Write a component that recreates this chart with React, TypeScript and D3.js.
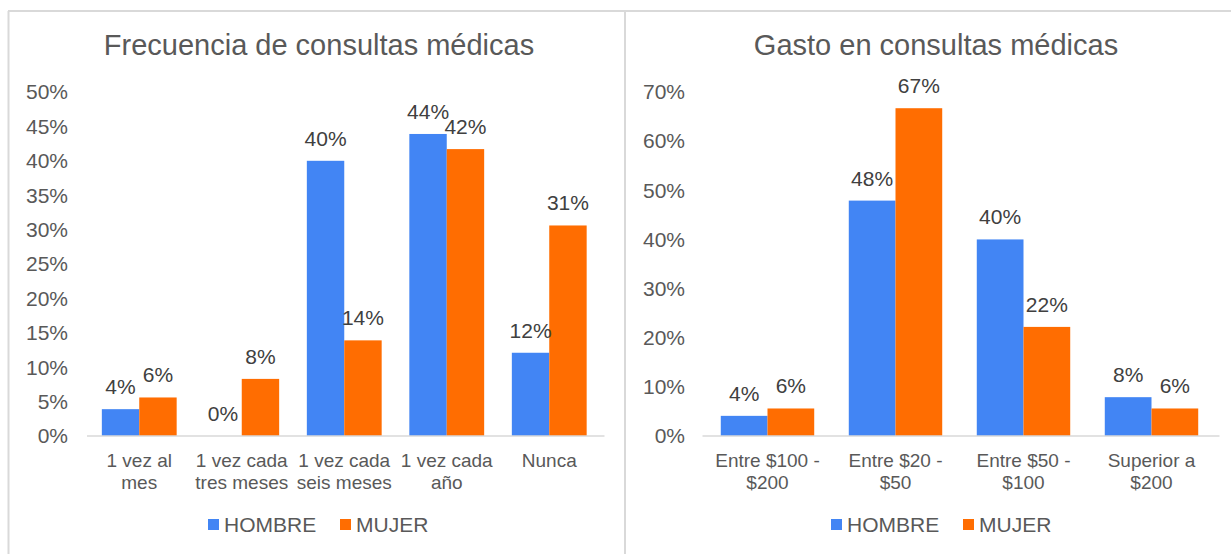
import React from "react";
import * as d3 from "d3";

const freqCategories: string[][] = [
  ["1 vez al", "mes"],
  ["1 vez cada", "tres meses"],
  ["1 vez cada", "seis meses"],
  ["1 vez cada", "año"],
  ["Nunca"],
];
const freqHombre = [3.9, 0, 40, 43.9, 12.1];
const freqMujer = [5.6, 8.3, 13.9, 41.7, 30.6];
const freqTicks = [0, 5, 10, 15, 20, 25, 30, 35, 40, 45, 50];

const gastoCategories: string[][] = [
  ["Entre $100 -", "$200"],
  ["Entre $20 -", "$50"],
  ["Entre $50 -", "$100"],
  ["Superior a", "$200"],
];
const gastoHombre = [4.1, 47.9, 40, 7.9];
const gastoMujer = [5.6, 66.7, 22.2, 5.6];
const gastoTicks = [0, 10, 20, 30, 40, 50, 60, 70];

const seriesNames = ["HOMBRE", "MUJER"];
const colors = ["#4285F4", "#FF6D01"];

const FONT = "'Liberation Sans', Arial, sans-serif";

type PanelProps = {
  title: string;
  cats: string[][];
  h: number[];
  m: number[];
  ticks: number[];
  x0: number;
  x1: number;
  tickX: number;
  titleX: number;
  legendX: number;
};

function Panel({ title, cats, h, m, ticks, x0, x1, tickX, titleX, legendX }: PanelProps) {
  const yMax = ticks[ticks.length - 1];
  const y = d3.scaleLinear().domain([0, yMax]).range([436, 92]);
  const padIn = 0.27;
  const x = d3
    .scaleBand<number>()
    .domain(d3.range(cats.length))
    .range([x0, x1])
    .paddingInner(padIn)
    .paddingOuter(padIn / 2);
  const xs = d3.scaleBand<number>().domain([0, 1]).range([0, x.bandwidth()]);
  const series = [h, m];
  return (
    <g>
      <text x={titleX} y={45} dy="0.35em" textAnchor="middle" fontSize={29} fill="#595959">
        {title}
      </text>
      {ticks.map((t) => (
        <text key={t} x={tickX} y={y(t)} dy="0.35em" textAnchor="end" fontSize={21} fill="#595959">
          {d3.format(".0f")(t)}%
        </text>
      ))}
      {series.map((vals, si) =>
        vals.map((v, i) => (
          <rect
            key={`${si}-${i}`}
            x={(x(i) as number) + (xs(si) as number)}
            y={y(v)}
            width={xs.bandwidth()}
            height={y(0) - y(v)}
            fill={colors[si]}
          />
        ))
      )}
      <line x1={x0 - 1} x2={x1 + 4} y1={436} y2={436} stroke="#d9d9d9" strokeWidth={1.5} />
      {series.map((vals, si) =>
        vals.map((v, i) => (
          <text
            key={`l${si}-${i}`}
            x={(x(i) as number) + (xs(si) as number) + xs.bandwidth() / 2}
            y={y(v) - 15}
            textAnchor="middle"
            fontSize={21}
            fill="#404040"
          >
            {Math.round(v)}%
          </text>
        ))
      )}
      {cats.map((lines, i) =>
        lines.map((ln, li) => (
          <text
            key={`c${i}-${li}`}
            x={(x(i) as number) + x.bandwidth() / 2}
            y={460 + li * 22}
            dy="0.35em"
            textAnchor="middle"
            fontSize={19}
            fill="#595959"
          >
            {ln}
          </text>
        ))
      )}
      <g>
        <rect x={legendX} y={519} width={11} height={11} fill={colors[0]} />
        <text x={legendX + 16} y={525} dy="0.35em" fontSize={21} fill="#595959">
          {seriesNames[0]}
        </text>
        <rect x={legendX + 132} y={519} width={11} height={11} fill={colors[1]} />
        <text x={legendX + 148} y={525} dy="0.35em" fontSize={21} fill="#595959">
          {seriesNames[1]}
        </text>
      </g>
    </g>
  );
}

export default function App() {
  return (
    <svg
      width={1231}
      height={554}
      style={{ position: "absolute", left: 0, top: 0, background: "#fff", fontFamily: FONT }}
    >
      <rect x={0} y={0} width={1231} height={554} fill="#fff" />
      <line x1={8} x2={1231} y1={11} y2={11} stroke="#d9d9d9" strokeWidth={2} />
      <line x1={8.5} x2={8.5} y1={11} y2={554} stroke="#d9d9d9" strokeWidth={2} />
      <line x1={625} x2={625} y1={11} y2={554} stroke="#d9d9d9" strokeWidth={2} />
      <Panel
        title="Frecuencia de consultas médicas"
        cats={freqCategories}
        h={freqHombre}
        m={freqMujer}
        ticks={freqTicks}
        x0={88}
        x1={600.5}
        tickX={68}
        titleX={319}
        legendX={208}
      />
      <Panel
        title="Gasto en consultas médicas"
        cats={gastoCategories}
        h={gastoHombre}
        m={gastoMujer}
        ticks={gastoTicks}
        x0={703.5}
        x1={1215.5}
        tickX={685}
        titleX={936}
        legendX={831}
      />
    </svg>
  );
}
